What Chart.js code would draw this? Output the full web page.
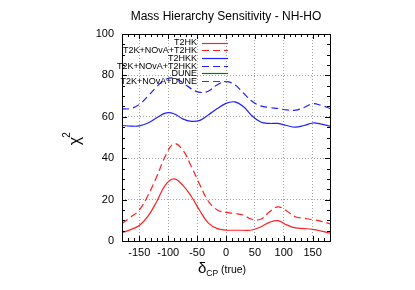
<!DOCTYPE html>
<html>
<head>
<meta charset="utf-8">
<script src="https://cdn.jsdelivr.net/npm/chart.js@4"></script>
<style>
  body { margin: 0; background: #fff; }
  canvas { display: block; }
</style>
</head>
<body>
<canvas id="chart" width="415" height="290"></canvas>
<script>
// Data (chi^2 vs true delta_CP)
const deltaCP = [-180, -165, -150, -135, -120, -105, -90, -75, -60, -45, -30, -15, 0,
                 15, 30, 45, 60, 75, 90, 105, 120, 135, 150, 165, 180];

const t2hk = [4.0, 5.5, 7.5, 12, 19, 27, 30, 27, 21.5, 14.5, 8.5, 6, 5.3,
              5.2, 5.2, 5.3, 6.8, 9, 9.8, 7.8, 6.3, 6, 5.6, 4.8, 3.8];
const t2kNovaT2hk = [8.5, 11.5, 15, 22, 31, 41, 47, 44, 36, 27, 19, 15, 13.8,
                     13.3, 12.5, 10.5, 10.5, 14, 16.5, 14.5, 11.7, 11, 10.3, 9.5, 8.3];
const t2hkk = [55.8, 55.5, 55.6, 57, 59.5, 61.8, 61.5, 59, 57.8, 58.3, 61, 64, 66.5,
               67.2, 65, 60.5, 57.5, 56.8, 56.8, 55.8, 55, 55.8, 57, 56.5, 55.5];
const t2kNovaT2hkk = [63.8, 64, 66, 70, 74.5, 78, 78.7, 76.5, 73.5, 71.8, 72.5, 75.5, 77,
                      75.5, 71.5, 67.5, 65.3, 64.5, 64, 63.3, 63.2, 64.5, 66.3, 65.5, 64];
const dune = [];
const t2kNovaDune = [];

const seriesNames = ['T2HK', 'T2K+NOvA+T2HK', 'T2HKK', 'T2K+NOvA+T2HKK', 'DUNE', 'T2K+NOvA+DUNE'];

// tick labels
const xTicks = [-150, -100, -50, 0, 50, 100, 150];
const yTicks = [0, 20, 40, 60, 80, 100];

const RED = '#ff2020';
const BLUE = '#2020ff';
const GREEN = '#008000';
const DASH = [7, 4];
const FONT = '"Liberation Sans", Arial, sans-serif';

function toPoints(values) {
    return values.map((v, i) => ({ x: deltaCP[i], y: v }));
}

function makeSet(label, values, color, dashed) {
    return {
        label,
        data: toPoints(values),
        borderColor: color,
        borderWidth: 1.2,
        borderDash: dashed ? DASH : [],
        pointRadius: 0,
        tension: 0.4,
        fill: false
    };
}

// Frame, inward ticks, title, axis titles and legend, drawn gnuplot-style
const decorations = {
    id: 'decorations',
    afterDraw(chart) {
        const ctx = chart.ctx;
        const area = chart.chartArea;
        const xs = chart.scales.x;
        const ys = chart.scales.y;
        ctx.save();

        // ticks on all four sides
        ctx.strokeStyle = '#000';
        ctx.lineWidth = 1;
        ctx.beginPath();
        for (let v = -180; v <= 180; v += 10) {
            const px = Math.round(xs.getPixelForValue(v)) + 0.5;
            const len = v % 50 === 0 ? 5 : 3;
            ctx.moveTo(px, area.bottom); ctx.lineTo(px, area.bottom - len);
            ctx.moveTo(px, area.top); ctx.lineTo(px, area.top + len);
        }
        for (let v = 0; v <= 100; v += 5) {
            const py = Math.round(ys.getPixelForValue(v)) + 0.5;
            const len = v % 20 === 0 ? 5 : 3;
            ctx.moveTo(area.left, py); ctx.lineTo(area.left + len, py);
            ctx.moveTo(area.right, py); ctx.lineTo(area.right - len, py);
        }
        ctx.stroke();

        // border
        ctx.strokeRect(Math.round(area.left) + 0.5, Math.round(area.top) + 0.5,
                       Math.round(area.right - area.left), Math.round(area.bottom - area.top));

        // title
        ctx.fillStyle = '#000';
        ctx.font = '12px ' + FONT;
        ctx.textAlign = 'center';
        ctx.textBaseline = 'middle';
        ctx.fillText('Mass Hierarchy Sensitivity - NH-HO', 226, 17);

        // x axis title: delta_CP (true)
        ctx.textAlign = 'left';
        ctx.textBaseline = 'alphabetic';
        ctx.font = '15px ' + FONT;
        const wd = ctx.measureText('δ').width;
        ctx.font = '8.5px ' + FONT;
        const wcp = ctx.measureText('CP').width;
        ctx.font = '10.5px ' + FONT;
        const wt = ctx.measureText(' (true)').width;
        const x0 = 222 - (wd + wcp + wt) / 2;
        ctx.font = '15px ' + FONT;
        ctx.fillText('δ', x0, 273);
        ctx.font = '8.5px ' + FONT;
        ctx.fillText('CP', x0 + wd, 276);
        ctx.font = '10.5px ' + FONT;
        ctx.fillText(' (true)', x0 + wd + wcp, 273);

        // y axis title: chi^2
        ctx.save();
        ctx.translate(80, 141);
        ctx.rotate(-Math.PI / 2);
        ctx.font = '16px ' + FONT;
        const wc = ctx.measureText('χ').width;
        ctx.fillText('χ', -wc / 2, 0);
        ctx.font = '10px ' + FONT;
        ctx.fillText('2', wc / 2 - 1, -10);
        ctx.restore();

        // legend (top-left, text right aligned before the sample line)
        ctx.font = '9px ' + FONT;
        ctx.textAlign = 'right';
        ctx.textBaseline = 'middle';
        chart.data.datasets.forEach((ds, i) => {
            const y = 42.5 + i * 7.7;
            ctx.fillStyle = '#000';
            ctx.fillText(ds.label, 197, y + 0.5);
            ctx.strokeStyle = ds.borderColor;
            ctx.lineWidth = 1.2;
            ctx.setLineDash(ds.borderDash);
            ctx.beginPath();
            ctx.moveTo(202, Math.round(y) + 0.5);
            ctx.lineTo(228, Math.round(y) + 0.5);
            ctx.stroke();
            ctx.setLineDash([]);
        });

        ctx.restore();
    }
};

const fixedTicks = (values) => (scale) => {
    scale.ticks = values.map(v => ({ value: v }));
};

new Chart(document.getElementById('chart'), {
    type: 'line',
    data: {
        datasets: [
            makeSet(seriesNames[0], t2hk, RED, false),
            makeSet(seriesNames[1], t2kNovaT2hk, RED, true),
            makeSet(seriesNames[2], t2hkk, BLUE, false),
            makeSet(seriesNames[3], t2kNovaT2hkk, BLUE, true),
            makeSet(seriesNames[4], dune, GREEN, false),
            makeSet(seriesNames[5], t2kNovaDune, GREEN, true)
        ]
    },
    options: {
        responsive: false,
        animation: false,
        layout: { padding: { left: 0, right: 85, top: 34, bottom: 0 } },
        plugins: {
            legend: { display: false },
            title: { display: false },
            tooltip: { enabled: false }
        },
        scales: {
            x: {
                type: 'linear',
                min: -180,
                max: 180,
                afterBuildTicks: fixedTicks(xTicks),
                afterFit: (scale) => { scale.height = 49; },
                ticks: {
                    autoSkip: false,
                    color: '#000',
                    padding: 5,
                    maxRotation: 0,
                    font: { family: FONT, size: 11 }
                },
                grid: { color: '#a0a0a0', lineWidth: 1, drawTicks: false },
                border: { display: false, dash: [1, 2] }
            },
            y: {
                min: 0,
                max: 100,
                afterBuildTicks: fixedTicks(yTicks),
                afterFit: (scale) => { scale.width = 122; },
                ticks: {
                    autoSkip: false,
                    color: '#000',
                    padding: 8,
                    font: { family: FONT, size: 11 }
                },
                grid: { color: '#a0a0a0', lineWidth: 1, drawTicks: false },
                border: { display: false, dash: [1, 2] }
            }
        }
    },
    plugins: [decorations]
});
</script>
</body>
</html>
